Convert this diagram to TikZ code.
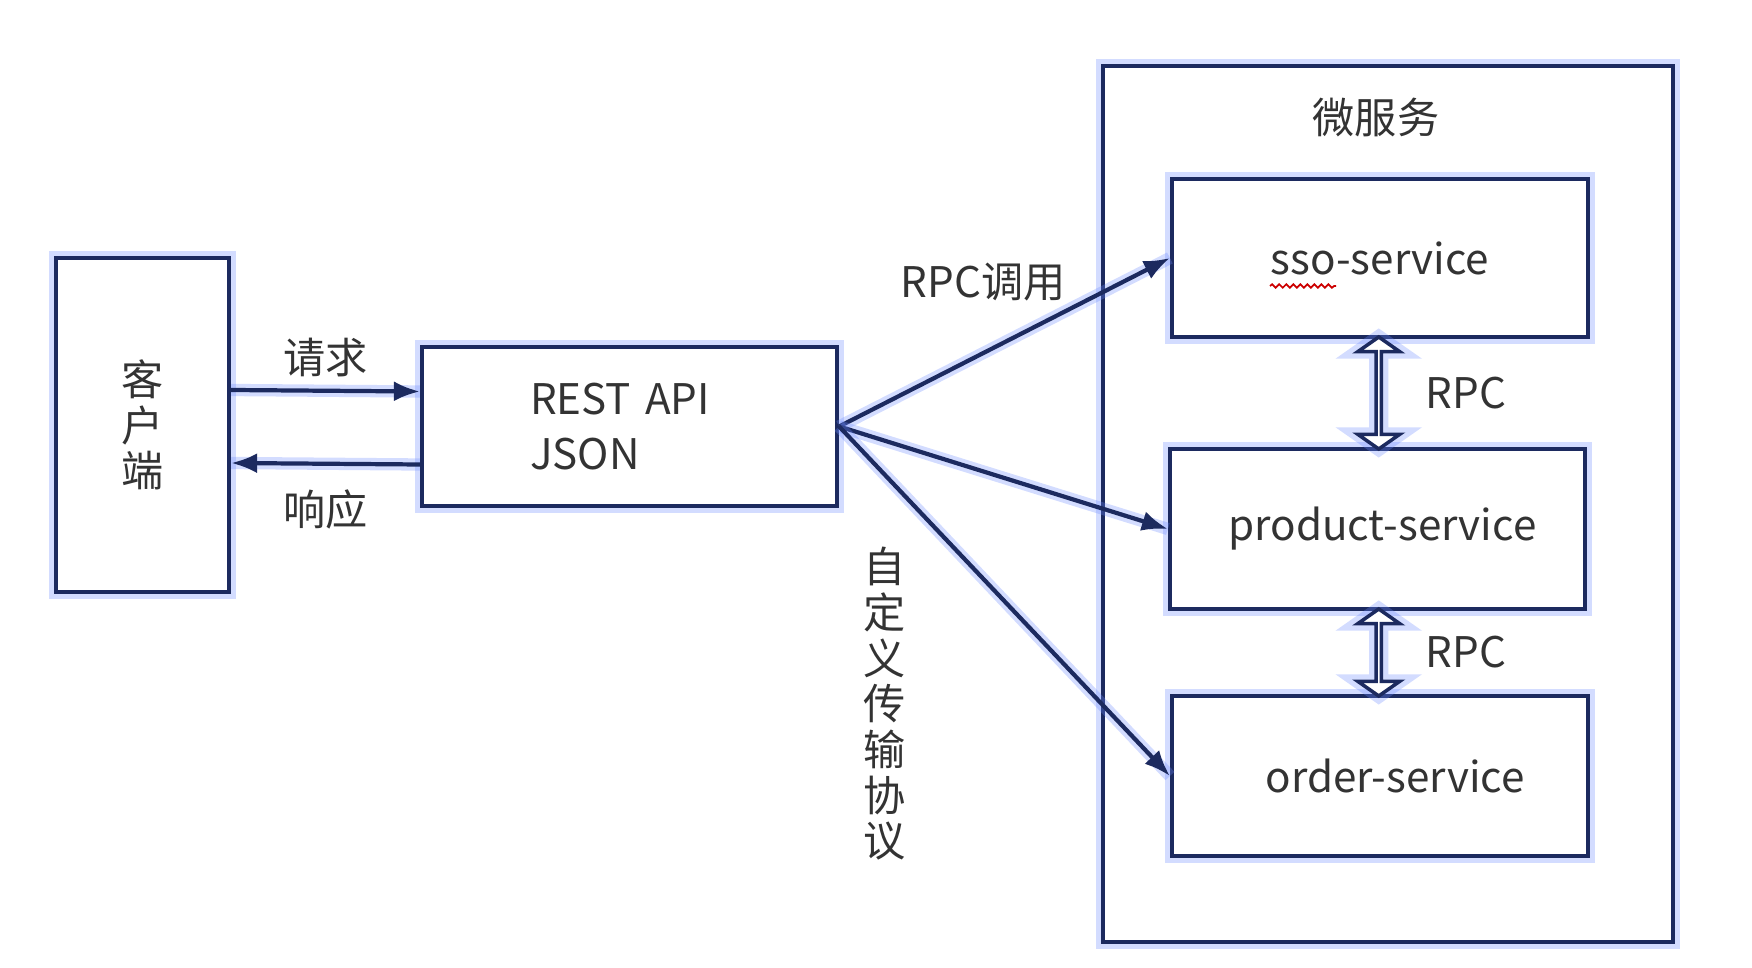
\documentclass[tikz,border=0pt]{standalone}
\usepackage{fontspec}
\setmainfont{Noto Sans CJK SC}
\usetikzlibrary{arrows.meta, positioning, shapes.arrows, calc, decorations.pathmorphing}

\definecolor{navy}{RGB}{28,42,95}
\definecolor{halo}{RGB}{110,140,255}

\begin{document}
\begin{tikzpicture}[
    every node/.style={font=\fontsize{12}{13}\selectfont, text=black!80},
    glow/.style={preaction={draw=halo, line width=4pt, opacity=0.3}},
    svcbox/.style={draw=navy, rectangle, line width=1.2pt, inner sep=0pt, fill=white, glow},
    link/.style={-{Latex[length=2.6mm, width=2mm]}, draw=navy, line width=1.2pt,
        preaction={-, draw=halo, line width=3.5pt, opacity=0.3}},
    rpcarrow/.style={double arrow, draw=navy, fill=white, line width=1pt, inner sep=0pt,
        shape border rotate=90, minimum width=0.42cm, double arrow head extend=0.12cm,
        double arrow tip angle=110, glow}
]
    \useasboundingbox (0,0) rectangle (17.52,-9.68);

    % Client and gateway
    \node (client) [svcbox, minimum width=1.73cm, minimum height=3.34cm, align=center] at (1.425,-4.25) {客\\户\\端};
    \node (rest) [svcbox, minimum width=4.15cm, minimum height=1.59cm, text width=1.99cm, align=left,
        font=\fontsize{12}{15.6}\selectfont] at (6.295,-4.265) {REST API\\JSON};

    % Microservices
    \node (ms) [svcbox, minimum width=5.70cm, minimum height=8.76cm] at (13.88,-5.04) {};
    \node (mstitle) at (13.76,-1.18) {微服务};
    \node (sso) [svcbox, minimum width=4.16cm, minimum height=1.58cm] at (13.80,-2.58) {sso-service};
    \node (product) [svcbox, minimum width=4.15cm, minimum height=1.60cm] at (13.775,-5.29) {\hspace*{0.1cm}product-service};
    \node (order) [svcbox, minimum width=4.16cm, minimum height=1.60cm] at (13.80,-7.76) {\hspace*{0.3cm}order-service};
    \draw [red!80!black, line width=0.5pt, decorate, decoration={snake, amplitude=0.5pt, segment length=2pt}]
        (12.70,-2.86) -- (13.36,-2.86);

    % RPC between services
    \node (rpc1) [rpcarrow, minimum height=1.12cm] at ($(sso.south)!0.5!(product.north)$) {};
    \node (rpc2) [rpcarrow, minimum height=0.87cm] at ($(product.south)!0.5!(order.north)$) {};
    \node (rpc1lbl) [right=3mm of rpc1] {RPC};
    \node (rpc2lbl) [right=3mm of rpc2] {RPC};

    % Request / response
    \draw [link] ([yshift=0.35cm]client.east) -- node[above=0mm] {请求} ([yshift=0.35cm]rest.west);
    \draw [link] ([yshift=-0.38cm]rest.west) -- node[below=1.2mm] {响应} ([yshift=-0.38cm]client.east);

    % Calls into services
    \draw [link] (rest.east) -- (sso.west);
    \draw [link] (rest.east) -- (product.west);
    \draw [link] (rest.east) -- (order.west);
    \node (rpccall) at (9.83,-2.82) {RPC调用};
    \node (proto) [align=center] at (8.85,-7.04) {自\\定\\义\\传\\输\\协\\议};

\end{tikzpicture}
\end{document}
